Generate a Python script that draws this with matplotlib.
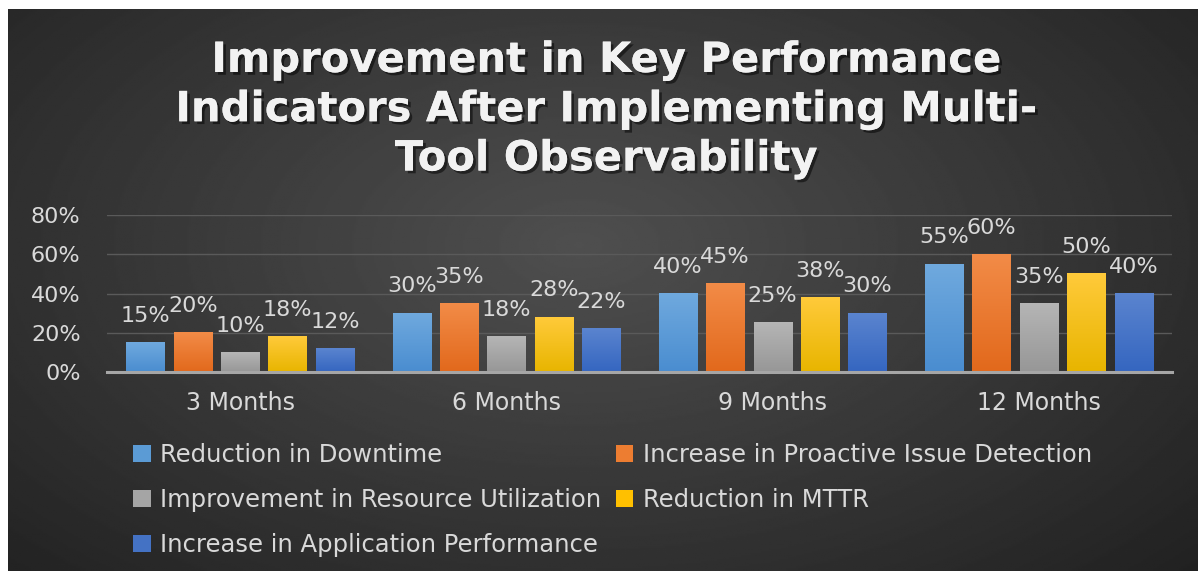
import numpy as np
import matplotlib.pyplot as plt
import matplotlib.patheffects as pe
from matplotlib.colors import LinearSegmentedColormap

periods = ['3 Months', '6 Months', '9 Months', '12 Months']
series = ['Reduction in Downtime', 'Increase in Proactive Issue Detection',
          'Improvement in Resource Utilization', 'Reduction in MTTR',
          'Increase in Application Performance']
downtime = [15, 30, 40, 55]
proactive = [20, 35, 45, 60]
resource = [10, 18, 25, 35]
mttr = [18, 28, 38, 50]
app_perf = [12, 22, 30, 40]
yticks = [0, 20, 40, 60, 80]

values = [downtime, proactive, resource, mttr, app_perf]
# (top, bottom) colours of each bar gradient
colors = [('#6fa9de', '#4a8dd0'), ('#f28b47', '#e2691c'), ('#b5b5b5', '#979797'),
          ('#ffca3a', '#e8b500'), ('#5a84cf', '#3566c0')]
legend_colors = ['#5b9bd5', '#ed7d31', '#a5a5a5', '#ffc000', '#4472c4']
txt = '#d9d9d9'

W, H = 1198, 571
fig = plt.figure(figsize=(W / 100, H / 100), dpi=100, facecolor='white')

# dark radial background
bg = fig.add_axes([8 / W, 0, 1 - 8 / W, 1 - 9 / H])
bg.set_axis_off()
yy, xx = np.mgrid[0:1:300j, 0:1:600j]
r = np.sqrt(((xx - 0.48) / 0.75) ** 2 + ((yy - 0.42) / 0.9) ** 2)
shade = np.clip(0.31 - 0.19 * r, 0.1, 1)
bg.imshow(shade, cmap='gray', vmin=0, vmax=1, aspect='auto', extent=[0, 1, 1, 0])
bg.set_xlim(0, 1)
bg.set_ylim(1, 0)

ax = fig.add_axes([107 / W, 1 - 372 / H, (1172 - 107) / W, (372 - 215) / H])
ax.patch.set_alpha(0)

x = np.arange(len(periods))
step = 0.178
width = 0.143
handles = []
for i, (name, vals) in enumerate(zip(series, values)):
    pos = x + (i - 2) * step
    bars = ax.bar(pos, vals, width, color=legend_colors[i], label=name, zorder=2)
    handles.append(bars)
    cmap = LinearSegmentedColormap.from_list('g%d' % i, [colors[i][1], colors[i][0]])
    for p in bars.patches:
        grad = np.linspace(0, 1, 50).reshape(-1, 1)
        ax.imshow(grad, cmap=cmap, aspect='auto', origin='lower', zorder=3,
                  extent=[p.get_x(), p.get_x() + p.get_width(), 0, p.get_height()])
    ax.bar_label(bars, labels=['%d%%' % v for v in vals], padding=12,
                 color=txt, fontsize=16, zorder=4)

ax.set_xlim(-0.5, len(periods) - 0.5)
ax.set_ylim(0, 80)
ax.set_yticks(yticks)
ax.set_yticklabels(['%d%%' % v for v in yticks])
ax.set_xticks(x)
ax.set_xticklabels(periods)
ax.tick_params(axis='y', length=0, pad=19, labelsize=16, labelcolor=txt)
ax.tick_params(axis='x', length=0, pad=14, labelsize=17, labelcolor=txt)
for s in ax.spines.values():
    s.set_visible(False)
ax.grid(axis='y', color='#5a5a5a', linewidth=1, zorder=0)
ax.axhline(0, color='#a6a6a6', linewidth=2.2, zorder=5, clip_on=False)

title = fig.text(606 / W, 1 - 39 / H,
                 'Improvement in Key Performance\nIndicators After Implementing Multi-\nTool Observability',
                 ha='center', va='top', fontsize=30, fontweight='bold', color='#f2f2f2',
                 linespacing=1.22)
title.set_path_effects([pe.withSimplePatchShadow(offset=(2, -2), shadow_rgbFace='black', alpha=0.5),
                        pe.Normal()])

# row-major legend like the original: reorder for matplotlib's column filling
order = [0, 2, 4, 1, 3]
leg = fig.legend([handles[k] for k in order], [series[k] for k in order], ncol=2,
                 loc='upper left', bbox_to_anchor=(133 / W, 1 - 443 / H), frameon=False,
                 fontsize=17.5, handlelength=0.72, handleheight=0.72, handletextpad=0.4,
                 columnspacing=0.6, labelspacing=0.86, borderpad=0, borderaxespad=0)
for t in leg.get_texts():
    t.set_color(txt)

fig.savefig('out.png', dpi=100, facecolor=fig.get_facecolor())
